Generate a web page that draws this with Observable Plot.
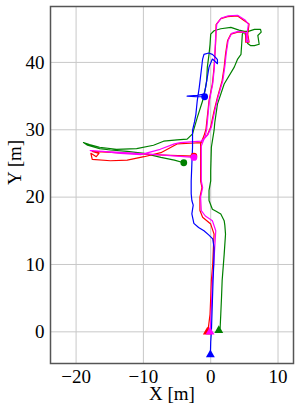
<!DOCTYPE html>
<html><head><meta charset="utf-8">
<script src="https://cdn.jsdelivr.net/npm/d3@7"></script>
<script src="https://cdn.jsdelivr.net/npm/@observablehq/plot@0.6"></script>
<style>body{margin:0;background:#fff} svg text{font-family:"Liberation Serif",serif !important;}</style>
</head><body><div id="chart"></div>
<script>
const xTicks = [-20, -10, 0, 10];
const yTicks = [0, 10, 20, 30, 40];
const xLabel = "X [m]";
const yLabel = "Y [m]";
const seriesNames = ["green", "red", "magenta", "blue"];
const seriesColors = ["#008000", "#ff0000", "#b400c8", "#0000ff"];

const bluePath = [[-0.05,-3.4],[0.0,-1.5],[0.1,0.0],[0.2,3.0],[0.35,7.6],[0.45,10.0],[0.5,12.5],[0.3,13.8],[-0.3,14.4],[-1.0,15.0],[-1.8,15.5],[-2.5,16.1],[-2.8,17.5],[-2.6,18.8],[-2.8,19.5],[-2.9,20.5],[-2.9,22.4],[-2.8,24.9],[-2.7,27.4],[-2.7,29.9],[-2.4,31.2],[-2.2,32.3],[-2.0,34.3],[-1.7,36.3],[-1.4,38.8],[-1.2,40.5],[-1.0,41.2],[-0.3,41.4],[0.25,41.2],[0.75,40.7],[1.0,40.4],[1.0,39.8],[0.6,40.2],[0.25,40.5],[-0.25,39.3],[-0.5,37.8],[-0.75,36.3],[-1.0,35.3],[-2.0,35.1],[-3.5,35.0],[-2.2,34.9],[-0.9,34.9]];

const greenPath = [[1.2,0.2],[1.4,0.6],[1.5,2.7],[1.6,5.0],[1.7,7.6],[2.0,11.5],[2.2,14.5],[2.1,15.8],[2.0,16.5],[1.5,17.5],[0.8,17.9],[0.25,18.2],[-0.25,19.5],[-0.25,21.0],[0.0,22.4],[0.0,23.9],[0.1,27.4],[0.5,29.9],[0.6,31.0],[1.0,33.8],[2.0,36.8],[3.5,39.3],[4.0,40.5],[4.5,41.2],[4.6,42.7],[4.7,44.2],[5.0,44.6],[5.6,44.6],[6.5,44.9],[7.4,44.9],[7.5,44.5],[7.0,44.0],[7.2,42.7],[6.5,42.5],[5.9,42.5],[5.5,42.8],[5.3,43.6],[5.0,44.6],[4.2,44.8],[3.0,45.2],[1.5,45.0],[0.5,44.7],[0.0,44.2],[-0.1,42.7],[-0.25,41.2],[-0.5,39.3],[-0.6,37.3],[-0.9,35.5],[-1.2,34.3],[-2.0,31.8],[-2.7,29.4],[-3.5,28.6],[-5.0,28.5],[-7.0,28.3],[-8.5,27.7],[-11.0,27.2],[-14.0,27.1],[-16.5,27.4],[-18.0,27.8],[-18.9,28.1],[-18.3,27.7],[-16.5,27.2],[-14.9,27.0],[-12.4,26.8],[-9.9,26.5],[-7.4,25.9],[-5.4,25.5],[-4.0,25.1]];

const redPath = [[-0.5,0.0],[-0.4,0.2],[-0.1,2.6],[0.0,5.0],[0.1,7.6],[0.3,10.0],[0.4,12.5],[0.5,14.5],[0.0,16.0],[-1.2,17.0],[-1.6,18.0],[-1.6,20.0],[-1.3,21.4],[-1.5,22.4],[-1.5,23.4],[-1.5,25.9],[-1.5,27.9],[-1.0,29.1],[-0.7,30.1],[-0.25,34.3],[0.25,36.8],[0.5,39.3],[0.75,43.2],[0.8,45.6],[1.5,46.5],[2.5,46.8],[4.0,46.9],[5.0,46.2],[5.7,45.7],[5.5,44.2],[5.7,43.0],[5.2,43.0],[5.2,44.5],[4.0,44.5],[3.0,44.2],[2.5,43.2],[2.2,41.2],[2.0,39.3],[1.7,37.3],[1.0,34.8],[0.5,32.8],[0.0,30.4],[-0.5,29.2],[-1.5,28.1],[-3.0,28.0],[-5.0,27.9],[-7.4,26.6],[-9.9,26.0],[-12.4,25.5],[-14.9,25.4],[-17.6,25.6],[-17.8,26.5],[-17.0,26.0],[-16.6,26.5],[-17.6,26.8],[-14.0,26.6],[-10.4,26.4],[-6.0,26.2],[-2.5,26.1]];

const magentaPath = [[-0.1,0.0],[0.0,1.5],[0.15,5.0],[0.25,7.6],[0.45,10.0],[0.6,12.5],[0.75,15.0],[0.25,16.5],[-0.8,17.2],[-1.4,18.0],[-1.5,20.0],[-1.2,21.4],[-1.4,22.4],[-1.4,25.9],[-1.4,27.6],[-0.8,29.1],[-0.6,30.1],[-0.2,34.3],[0.3,36.8],[0.55,39.3],[0.7,43.2],[0.9,45.7],[1.6,46.6],[2.6,46.9],[4.0,47.0],[5.1,46.3],[5.6,45.7],[5.4,44.2],[5.6,43.1],[5.3,43.1],[5.3,44.4],[4.1,44.6],[3.1,44.3],[2.6,43.3],[2.3,41.3],[2.1,39.4],[1.8,37.3],[1.1,34.9],[0.6,32.8],[0.1,30.4],[-0.4,29.3],[-1.4,28.3],[-3.0,28.2],[-4.5,28.1],[-5.4,27.9],[-7.5,27.1],[-10.4,26.3],[-13.4,26.5],[-16.0,26.8],[-17.9,26.9],[-13.0,26.6],[-8.0,26.3],[-2.5,25.9]];

const paths = [greenPath, redPath, magentaPath, bluePath];
const rows = seriesNames.flatMap((name, k) => paths[k].map(([x, y]) => ({series: name, x, y})));
const starts = seriesNames.map((name, k) => ({series: name, x: paths[k][0][0], y: paths[k][0][1]}));
const ends = seriesNames.map((name, k) => ({series: name, x: paths[k][paths[k].length-1][0], y: paths[k][paths[k].length-1][1]}));
const FONT = "Liberation Serif";

const chart = Plot.plot({
  width: 299, height: 413,
  marginLeft: 50, marginRight: 6, marginTop: 6, marginBottom: 50,
  style: {fontFamily: FONT, fontSize: "19px", background: "#fff", color: "#000"},
  x: {domain: [-23.8, 12.3]},
  y: {domain: [-4.7, 48.3]},
  color: {domain: seriesNames, range: seriesColors},
  marks: [
    Plot.gridX(xTicks, {stroke: "#c8c8c8", strokeOpacity: 1, strokeWidth: 1}),
    Plot.gridY(yTicks, {stroke: "#c8c8c8", strokeOpacity: 1, strokeWidth: 1}),
    Plot.axisX(xTicks, {tickSize: 0, tickPadding: 6, label: null, fontSize: 19, fontFamily: FONT}),
    Plot.axisY(yTicks, {tickSize: 0, tickPadding: 6, label: null, fontSize: 19, fontFamily: FONT}),
    ...seriesNames.map(name => Plot.line(rows.filter(r => r.series === name), {x: "x", y: "y", stroke: "series", strokeWidth: 1.2})),
    Plot.dot(starts, {x: "x", y: "y", fill: "series", symbol: "triangle", r: 3.3}),
    Plot.dot(ends, {x: "x", y: "y", fill: "series", symbol: "circle", r: 3.4}),
    Plot.frame({stroke: "#555", strokeWidth: 1.5}),
    Plot.text([xLabel], {frameAnchor: "bottom", dy: 36, text: d => d, fontSize: 19, fontFamily: FONT}),
    Plot.text([yLabel], {frameAnchor: "left", dx: -36, rotate: -90, text: d => d, fontSize: 19, fontFamily: FONT})
  ]
});
document.getElementById("chart").appendChild(chart);
</script>
</body></html>
